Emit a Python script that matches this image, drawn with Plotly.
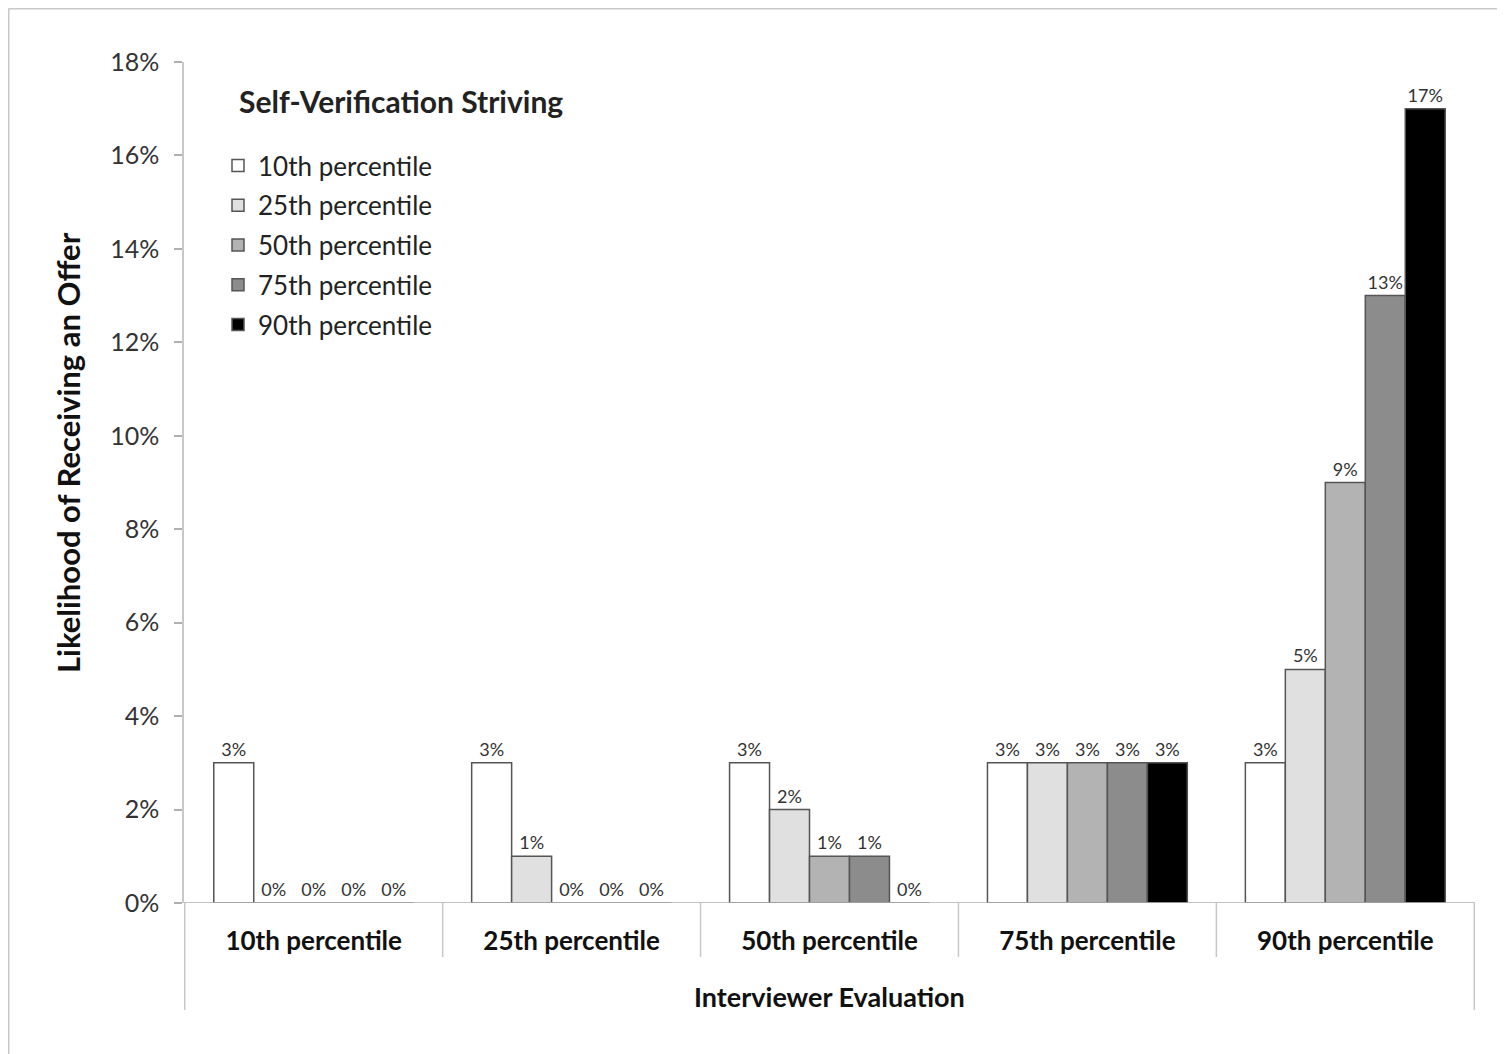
import plotly.graph_objects as go

# data (percent)
evaluations = ["10th percentile", "25th percentile", "50th percentile",
               "75th percentile", "90th percentile"]
striving = ["10th percentile", "25th percentile", "50th percentile",
            "75th percentile", "90th percentile"]
p10 = [3, 3, 3, 3, 3]
p25 = [0, 1, 2, 3, 5]
p50 = [0, 0, 1, 3, 9]
p75 = [0, 0, 1, 3, 13]
p90 = [0, 0, 0, 3, 17]
series = [p10, p25, p50, p75, p90]
fills = ["#ffffff", "#e0e0e0", "#b3b3b3", "#8c8c8c", "#000000"]
y_ticks = [0, 2, 4, 6, 8, 10, 12, 14, 16, 18]

# the page body adds an 8px margin, so the figure is laid out in screen px - 8
OFF = 8
W, H = 1505 - OFF, 1054 - OFF
ML, MT = 184 - OFF, 62 - OFF
MR = W - (1475 - OFF)
MB = H - (903 - OFF)
PW, PH = W - ML - MR, H - MT - MB
FONT = "Lato"

fig = go.Figure()
for name, vals, col in zip(striving, series, fills):
    fig.add_trace(go.Bar(
        x=evaluations, y=vals, name=name, legendgroup=name,
        marker=dict(color=col, line=dict(color="#555555", width=1.5)),
        text=vals, texttemplate="%{text}%", textposition="outside",
        textfont=dict(size=18, color="#333333", family=FONT),
        cliponaxis=False,
    ))

# screen pixel -> paper helpers
px = lambda p: (p - OFF - ML) / PW
py = lambda p: (H - MB - (p - OFF)) / PH

shapes = []
# category separators (Excel style), extending under the labels
for i in range(len(evaluations) + 1):
    bottom = 1010 if i in (0, len(evaluations)) else 957
    shapes.append(dict(type="line", xref="x", yref="paper",
                       x0=i - 0.5, x1=i - 0.5, y0=0, y1=py(bottom),
                       line=dict(color="#c8c8c8", width=1.5)))
# baseline
shapes.append(dict(type="line", xref="paper", yref="y", x0=0, x1=1, y0=0, y1=0,
                   line=dict(color="#b0b0b0", width=1.5)))
# outer chart border (top & left visible)
shapes.append(dict(type="line", xref="paper", yref="paper",
                   x0=px(8.5), x1=px(1520), y0=py(8.5), y1=py(8.5),
                   line=dict(color="#c8c8c8", width=2)))
shapes.append(dict(type="line", xref="paper", yref="paper",
                   x0=px(8.5), x1=px(8.5), y0=py(8.5), y1=py(1070),
                   line=dict(color="#c8c8c8", width=2)))

fig.update_layout(
    width=W, height=H,
    margin=dict(l=ML, r=MR, t=MT, b=MB),
    paper_bgcolor="white", plot_bgcolor="white",
    font=dict(family=FONT, color="#222222"),
    barmode="group", bargap=0.225, bargroupgap=0,
    showlegend=True,
    legend=dict(
        x=px(218), y=py(142), xanchor="left", yanchor="top",
        font=dict(size=26, color="#222222", family=FONT),
        tracegroupgap=3, bgcolor="rgba(0,0,0,0)",
        title=dict(text=""),
    ),
    shapes=shapes,
    annotations=[
        dict(text="<b>Self-Verification Striving</b>", xref="paper", yref="paper",
             x=px(237), y=py(101), xanchor="left", yanchor="middle",
             showarrow=False, font=dict(size=30, color="#222222", family=FONT)),
        dict(text="<b>Likelihood of Receiving an Offer</b>", xref="paper", yref="paper",
             x=px(68), y=py(453), xanchor="center", yanchor="middle", textangle=-90,
             showarrow=False, font=dict(size=31, color="#111111", family=FONT)),
        dict(text="<b>Interviewer Evaluation</b>", xref="paper", yref="paper",
             x=px(829), y=py(996), xanchor="center", yanchor="middle",
             showarrow=False, font=dict(size=27, color="#111111", family=FONT)),
    ],
)

fig.update_xaxes(
    type="category", showgrid=False, showline=False, zeroline=False,
    ticks="", tickfont=dict(size=26, color="#111111", family=FONT),
    tickprefix="<b>", ticksuffix="</b>", ticklabelstandoff=20,
)
fig.update_yaxes(
    range=[0, 18], tickvals=y_ticks, ticktext=[f"{v}%" for v in y_ticks],
    showgrid=False, zeroline=False,
    showline=True, linecolor="#c8c8c8", linewidth=1.5,
    ticks="outside", ticklen=8, tickcolor="#b0b0b0", tickwidth=1.5,
    tickfont=dict(size=25, color="#333333", family=FONT),
    ticklabelstandoff=10,
)

fig.write_html("out.html")
